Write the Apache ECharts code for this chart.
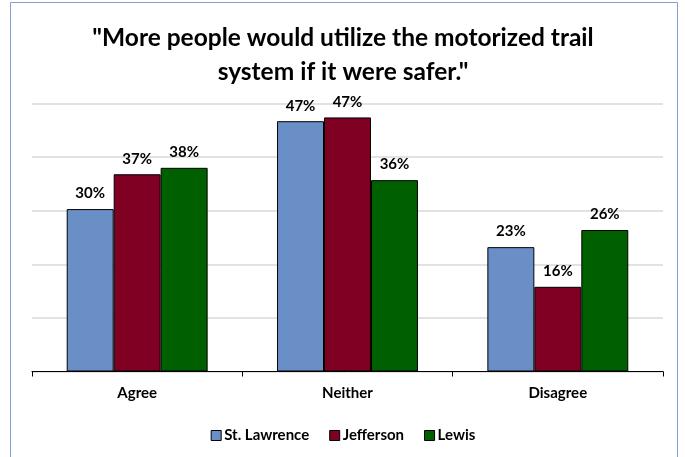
<!DOCTYPE html>
<html><head><meta charset="utf-8">
<script src="https://cdn.jsdelivr.net/npm/echarts@6/dist/echarts.min.js"></script>
<style>html,body{margin:0;padding:0;background:#fff}#c{width:686px;height:457px}</style>
</head><body><div id="c"></div>
<script>
const categories = ["Agree", "Neither", "Disagree"];
const seriesNames = ["St. Lawrence", "Jefferson", "Lewis"];
const stLawrence = [30.3, 46.7, 23.2];
const jefferson = [36.8, 47.4, 15.8];
const lewis = [38.0, 35.7, 26.4];
const colors = ["#6a8fc7", "#7f0022", "#006000"];
const titleText = "\"More people would utilize the motorized trail\nsystem if it were safer.\"";
const FONT = "Lato";

const chart = echarts.init(document.getElementById('c'));
const mk = (name, data, color) => ({
  name, type: 'bar', data,
  barGap: '0%', barCategoryGap: '33%',
  itemStyle: { color, borderColor: '#000', borderWidth: 1 },
  label: { show: true, position: 'top', distance: 8, fontFamily: FONT, fontWeight: 'bold', fontSize: 15, color: '#000',
    formatter: p => Math.round(p.value) + '%' },
  emphasis: { disabled: true }
});
chart.setOption({
  animation: false,
  title: { text: titleText, left: 'center', top: 16, textStyle: { fontFamily: FONT, fontWeight: 'bold', fontSize: 24.5, color: '#000', lineHeight: 34 } },
  graphic: [{ type: 'rect', shape: { x: 10.5, y: 2.5, width: 667, height: 480 }, style: { fill: 'none', stroke: '#7f9fd0', lineWidth: 1 }, silent: true }],
  grid: { left: 32, right: 23, top: 103.5, height: 268 },
  legend: { data: seriesNames, top: 423, left: 'center', icon: 'rect', itemWidth: 10, itemHeight: 10, itemGap: 20,
    textStyle: { fontFamily: FONT, fontWeight: 'bold', fontSize: 15, color: '#000', padding: [0, 0, 0, -2] },
    itemStyle: { borderColor: '#000', borderWidth: 1 } },
  xAxis: { type: 'category', data: categories,
    axisLine: { lineStyle: { color: '#000', width: 1 } },
    axisTick: { show: true, length: 5, lineStyle: { color: '#000' } },
    axisLabel: { fontFamily: FONT, fontWeight: 'bold', fontSize: 15, color: '#000', margin: 14 } },
  yAxis: { type: 'value', min: 0, max: 50, interval: 10,
    axisLabel: { show: false }, axisLine: { show: false }, axisTick: { show: false },
    splitLine: { lineStyle: { color: '#d9d9d9', width: 1.5 } } },
  series: [mk(seriesNames[0], stLawrence, colors[0]), mk(seriesNames[1], jefferson, colors[1]), mk(seriesNames[2], lewis, colors[2])]
});
</script></body></html>
